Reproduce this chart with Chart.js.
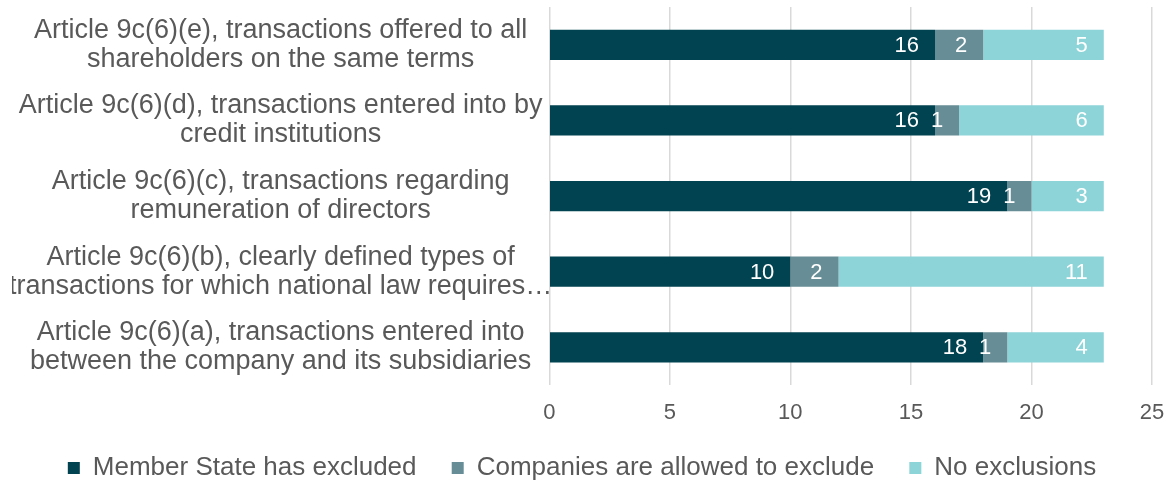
<!DOCTYPE html>
<html>
<head>
<meta charset="utf-8">
<script src="https://cdn.jsdelivr.net/npm/chart.js@4/dist/chart.umd.min.js"></script>
<style>
  html, body { margin: 0; padding: 0; background: #fff; }
  #wrap { width: 1174px; height: 485px; }
</style>
</head>
<body>
<div id="wrap"><canvas id="chart"></canvas></div>
<script>
// categories, top to bottom
const categories = [
    ["Article 9c(6)(e), transactions offered to all", "shareholders on the same terms"],
    ["Article 9c(6)(d), transactions entered into by", "credit institutions"],
    ["Article 9c(6)(c), transactions regarding", "remuneration of directors"],
    ["Article 9c(6)(b), clearly defined types of", "transactions for which national law requires\u2026"],
    ["Article 9c(6)(a), transactions entered into", "between the company and its subsidiaries"]
];
const memberStateExcluded = [16, 16, 19, 10, 18];
const companiesAllowed = [2, 1, 1, 2, 1];
const noExclusions = [5, 6, 3, 11, 4];

const textGray = "#595959";
const fontFamily = "'Liberation Sans', Arial, sans-serif";

// white value labels at the inside end of each segment
const valueLabels = {
    id: "valueLabels",
    afterDatasetsDraw(chart) {
        const ctx = chart.ctx;
        ctx.save();
        ctx.fillStyle = "#ffffff";
        ctx.font = "22px " + fontFamily;
        ctx.textAlign = "right";
        ctx.textBaseline = "middle";
        chart.data.datasets.forEach((ds, i) => {
            const meta = chart.getDatasetMeta(i);
            meta.data.forEach((bar, j) => {
                ctx.fillText(String(ds.data[j]), bar.x - 16, bar.y + 1);
            });
        });
        ctx.restore();
    }
};

const defaultLegendLabels = Chart.defaults.plugins.legend.labels.generateLabels;

new Chart(document.getElementById("chart"), {
    type: "bar",
    data: {
        labels: categories,
        datasets: [
            { label: "Member State has excluded", data: memberStateExcluded, backgroundColor: "#024351" },
            { label: "Companies are allowed to exclude", data: companiesAllowed, backgroundColor: "#678D96" },
            { label: "No exclusions", data: noExclusions, backgroundColor: "#8DD4D9" }
        ]
    },
    options: {
        indexAxis: "y",
        responsive: true,
        maintainAspectRatio: false,
        animation: false,
        categoryPercentage: 1,
        barPercentage: 0.4,
        layout: { padding: { top: 7, right: 22, left: 12, bottom: -6 } },
        scales: {
            x: {
                stacked: true,
                min: 0,
                max: 25,
                ticks: { stepSize: 5, color: textGray, font: { size: 22, family: fontFamily }, padding: 15 },
                grid: { color: "#d9d9d9", lineWidth: 1.5, drawTicks: false },
                border: { display: false },
                afterFit(scale) {
                    scale.paddingRight = 0;
                }
            },
            y: {
                stacked: true,
                ticks: {
                    color: textGray,
                    crossAlign: "center",
                    padding: -3,
                    font: { size: 27, family: fontFamily, lineHeight: 1.074 }
                },
                grid: { display: false, drawTicks: false },
                border: { display: false },
                // two-line labels should not push the plot down
                afterFit(scale) {
                    scale.paddingTop = 0;
                    scale.paddingBottom = 0;
                }
            }
        },
        plugins: {
            tooltip: { enabled: false },
            legend: {
                position: "bottom",
                labels: {
                    color: textGray,
                    boxWidth: 12,
                    boxHeight: 12,
                    padding: 13.5,
                    font: { size: 26, family: fontFamily },
                    // wider gap between items without a taller legend
                    generateLabels(chart) {
                        const items = defaultLegendLabels(chart);
                        items.forEach((item, i) => {
                            if (i < items.length - 1) item.text += "\u00a0\u00a0\u00a0";
                        });
                        return items;
                    }
                }
            }
        }
    },
    plugins: [valueLabels]
});
</script>
</body>
</html>
